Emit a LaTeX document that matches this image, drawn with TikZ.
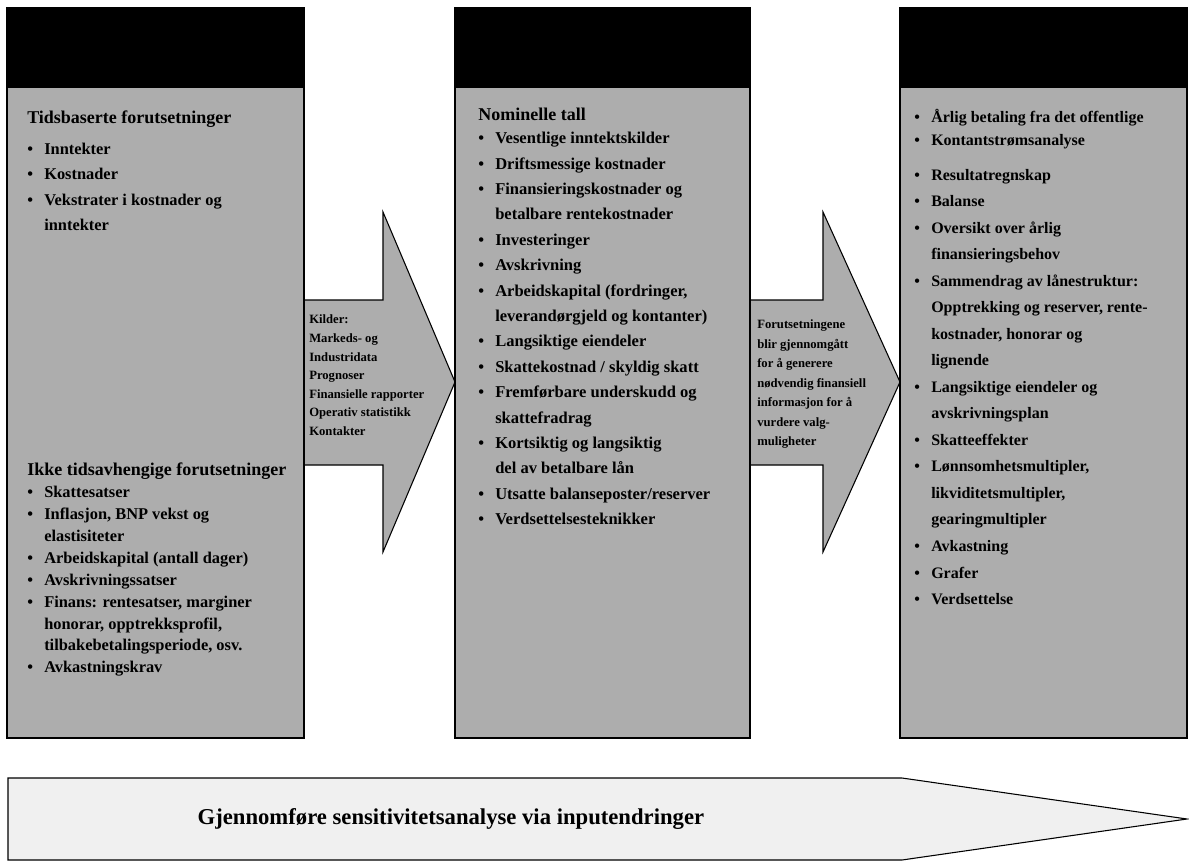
\documentclass[tikz,border=0pt]{standalone}
\usepackage{fontspec}
\setmainfont{Liberation Serif}
\usetikzlibrary{positioning}

\newcommand\pkt{\makebox[12.75pt][l]{\textbullet}}
\newcommand\inn{\hspace*{12.75pt}}
\newcommand\topp{\rule{0pt}{11pt}}
\newcommand\overskr[1]{{\fontsize{13.5}{16}\selectfont #1}}

\begin{document}
\begin{tikzpicture}[x=0.75pt,y=-0.75pt,
  panel/.style={draw=black,fill=black!32,line width=0.8pt},
  pil/.style={draw=black,fill=black!32,line width=0.8pt,line join=miter},
  liste/.style={anchor=north west,inner sep=0pt,align=left},
  pilnote/.style={anchor=north west,inner sep=0pt,align=left}]

\useasboundingbox (0,0) rectangle (1189,863);

% Piler mellom boksene
\draw[pil] (300,300)--(383,300)--(383,212)--(455,382)--(383,552)--(383,465)--(300,465)--cycle;
\draw[pil] (746,300)--(823,300)--(823,212)--(900,382)--(823,552)--(823,465)--(746,465)--cycle;

% Bokser
\draw[panel] (7,8) rectangle (304,738);
\draw[panel] (455,8) rectangle (750,738);
\draw[panel] (900,8) rectangle (1187,738);
\fill[black] (7,8) rectangle (304,88);
\fill[black] (455,8) rectangle (750,88);
\fill[black] (900,8) rectangle (1187,88);

% Inndata
\node[liste,font=\bfseries\fontsize{12.3}{19}\selectfont] (tid) at (27,109)
{\topp\overskr{Tidsbaserte forutsetninger}\\[4pt]
\pkt Inntekter\\
\pkt Kostnader\\
\pkt Vekstrater i kostnader og\\
\inn inntekter};

\node[liste,font=\bfseries\fontsize{12.3}{16.4}\selectfont] (ikketid) at (27,461)
{\topp\overskr{Ikke tidsavhengige forutsetninger}\\
\pkt Skattesatser\\
\pkt Inflasjon, BNP vekst og\\
\inn elastisiteter\\
\pkt Arbeidskapital (antall dager)\\
\pkt Avskrivningssatser\\
\pkt Finans: rentesatser, marginer\\
\inn honorar, opptrekksprofil,\\
\inn tilbakebetalingsperiode, osv.\\
\pkt Avkastningskrav};

% Beregninger
\node[liste,font=\bfseries\fontsize{12.4}{19.05}\selectfont] (nom) at (478,106)
{\topp\overskr{Nominelle tall}\\[-2pt]
\pkt Vesentlige inntektskilder\\
\pkt Driftsmessige kostnader\\
\pkt Finansieringskostnader og\\
\inn betalbare rentekostnader\\
\pkt Investeringer\\
\pkt Avskrivning\\
\pkt Arbeidskapital (fordringer,\\
\inn leverandørgjeld og kontanter)\\
\pkt Langsiktige eiendeler\\
\pkt Skattekostnad / skyldig skatt\\
\pkt Fremførbare underskudd og\\
\inn skattefradrag\\
\pkt Kortsiktig og langsiktig\\
\inn del av betalbare lån\\
\pkt Utsatte balanseposter/reserver\\
\pkt Verdsettelsesteknikker};

% Utdata
\node[liste,font=\bfseries\fontsize{12}{19.9}\selectfont] (ut) at (914,108)
{\topp\pkt Årlig betaling fra det offentlige\\[-3pt]
\pkt Kontantstrømsanalyse\\[6pt]
\pkt Resultatregnskap\\
\pkt Balanse\\
\pkt Oversikt over årlig\\
\inn finansieringsbehov\\
\pkt Sammendrag av lånestruktur:\\
\inn Opptrekking og reserver, rente-\\
\inn kostnader, honorar og\\
\inn lignende\\
\pkt Langsiktige eiendeler og\\
\inn avskrivningsplan\\
\pkt Skatteeffekter\\
\pkt Lønnsomhetsmultipler,\\
\inn likviditetsmultipler,\\
\inn gearingmultipler\\
\pkt Avkastning\\
\pkt Grafer\\
\pkt Verdsettelse};

% Tekst i pilene
\node[pilnote,font=\bfseries\fontsize{9.5}{13.9}\selectfont] (kilder) at (309,309)
{\topp Kilder:\\ Markeds- og\\ Industridata\\ Prognoser\\
Finansielle rapporter\\ Operativ statistikk\\ Kontakter};

\node[pilnote,font=\bfseries\fontsize{9.5}{14.6}\selectfont] (forut) at (757,314)
{\topp Forutsetningene\\ blir gjennomgått\\ for å generere\\
nødvendig finansiell\\ informasjon for å\\ vurdere valg-\\ muligheter};

% Sensitivitet
\draw[draw=black,fill=black!6,line width=0.8pt]
  (8,778)--(902,778)--(1187,819)--(902,860)--(8,860)--cycle;
\node[font=\bfseries\fontsize{17}{19}\selectfont,anchor=base west] (sens) at (193,824)
{Gjennomføre sensitivitetsanalyse via inputendringer};

\end{tikzpicture}
\end{document}
